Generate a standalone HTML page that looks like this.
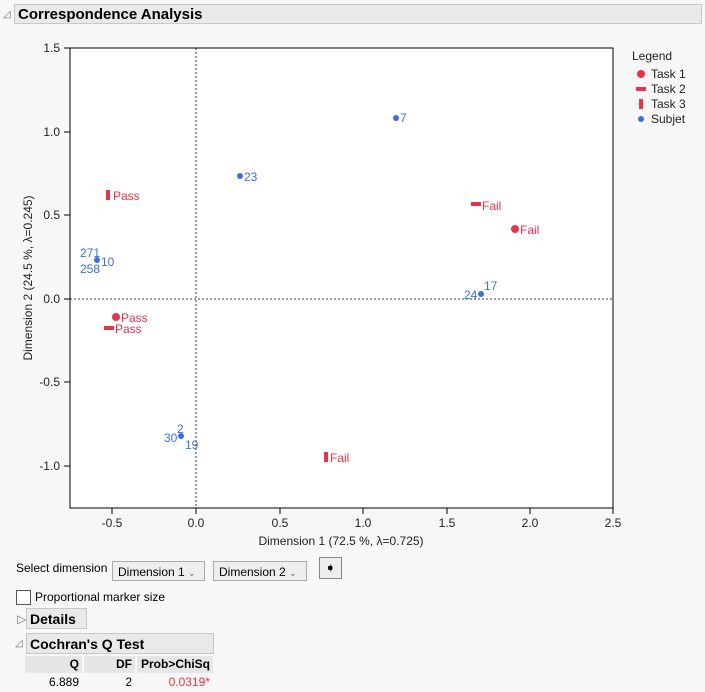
<!DOCTYPE html>
<html><head><style>
body{margin:0;background:#f7f7f7;font-family:"Liberation Sans",sans-serif;width:705px;height:692px;overflow:hidden;position:relative}
.hdr{position:absolute;left:14px;top:4px;width:688px;height:20px;background:#e9e9e9;border:1px solid #c8c8c8;font-weight:bold;font-size:15px;line-height:20px;padding-left:3px;box-sizing:border-box}
.tri{position:absolute;font-size:10px;color:#777}
.sel{position:absolute;top:561px;height:20px;border:1px solid #aaa;background:#eee;font-size:12px;line-height:20px;padding-left:5px;box-sizing:border-box}
</style></head><body>
<div class="tri" style="left:3px;top:9px">◿</div>
<div class="hdr">Correspondence Analysis</div>
<svg width="705" height="692" style="position:absolute;left:0;top:0" font-family="Liberation Sans, sans-serif">
<rect x="70" y="48" width="543" height="460" fill="#fff" stroke="#000" stroke-width="1"/>
<line x1="196" y1="48" x2="196" y2="508" stroke="#000" stroke-dasharray="2,2" stroke-width="0.8"/>
<line x1="70" y1="299" x2="613" y2="299" stroke="#000" stroke-dasharray="2,2" stroke-width="0.8"/>
<g font-size="12" fill="#222" text-anchor="end">
<text x="60" y="52">1.5</text><text x="60" y="136">1.0</text><text x="60" y="219">0.5</text><text x="60" y="303">0.0</text><text x="60" y="386">-0.5</text><text x="60" y="470">-1.0</text>
</g>
<g stroke="#000"><line x1="64" y1="48" x2="70" y2="48"/><line x1="64" y1="132" x2="70" y2="132"/><line x1="64" y1="215" x2="70" y2="215"/><line x1="64" y1="299" x2="70" y2="299"/><line x1="64" y1="382" x2="70" y2="382"/><line x1="64" y1="466" x2="70" y2="466"/>
<line x1="112" y1="508" x2="112" y2="514"/><line x1="196" y1="508" x2="196" y2="514"/><line x1="280" y1="508" x2="280" y2="514"/><line x1="363" y1="508" x2="363" y2="514"/><line x1="447" y1="508" x2="447" y2="514"/><line x1="530" y1="508" x2="530" y2="514"/><line x1="613" y1="508" x2="613" y2="514"/></g>
<g font-size="12" fill="#222" text-anchor="middle">
<text x="112" y="527">-0.5</text><text x="196" y="527">0.0</text><text x="280" y="527">0.5</text><text x="363" y="527">1.0</text><text x="447" y="527">1.5</text><text x="530" y="527">2.0</text><text x="613" y="527">2.5</text>
<text x="341" y="545">Dimension 1  (72.5 %, λ=0.725)</text>
<text transform="translate(32,278) rotate(-90)">Dimension 2  (24.5 %, λ=0.245)</text>
</g>
<g fill="#e8334a">
<circle cx="515" cy="229" r="4"/><circle cx="116" cy="317" r="4"/>
<rect x="471" y="202" width="10" height="4"/><rect x="104" y="326" width="10" height="4"/>
<rect x="106" y="190" width="4" height="10"/><rect x="324" y="452" width="4" height="10"/>
</g>
<g font-size="12" fill="#e8334a">
<text x="520" y="234">Fail</text><text x="121" y="322">Pass</text><text x="482" y="210">Fail</text><text x="115" y="333">Pass</text><text x="113" y="200">Pass</text><text x="330" y="462">Fail</text>
</g>
<g fill="#3b6fdc">
<circle cx="396" cy="118" r="3"/><circle cx="240" cy="176" r="3"/><circle cx="97" cy="260" r="3"/><circle cx="481" cy="294" r="3"/><circle cx="181" cy="436" r="3"/>
</g>
<g font-size="12" fill="#3b6fdc">
<text x="400" y="122">7</text><text x="244" y="181">23</text><text x="80" y="257">271</text><text x="80" y="273">258</text><text x="101" y="266">10</text>
<text x="484" y="290">17</text><text x="464" y="299">24</text><text x="177" y="433">2</text><text x="164" y="442">30</text><text x="185" y="449">19</text>
</g>
<g font-size="12" fill="#222">
<text x="632" y="60">Legend</text>
<text x="651" y="78">Task 1</text><text x="651" y="93">Task 2</text><text x="651" y="108">Task 3</text><text x="651" y="123">Subjet</text>
</g>
<circle cx="641" cy="74" r="4" fill="#e8334a"/><rect x="636" y="87" width="10" height="4" fill="#e8334a"/><rect x="639" y="99" width="4" height="10" fill="#e8334a"/><circle cx="641" cy="119" r="3" fill="#3b6fdc"/>
</svg>
<div style="position:absolute;left:16px;top:561px;font-size:12px">Select dimension</div>
<div class="sel" style="left:112px;width:93px">Dimension 1 <span style="font-size:9px;color:#666">⌄</span></div>
<div class="sel" style="left:213px;width:94px">Dimension 2 <span style="font-size:9px;color:#666">⌄</span></div>
<div style="position:absolute;left:319px;top:557px;width:21px;height:20px;border:1px solid #888;background:#eee;font-size:13px;text-align:center;line-height:20px">➧</div>
<div style="position:absolute;left:16px;top:590px;width:13px;height:13px;border:1px solid #555;background:#fff"></div>
<div style="position:absolute;left:35px;top:590px;font-size:12px">Proportional marker size</div>
<div class="tri" style="left:17px;top:612px;font-size:12px">▷</div>
<div style="position:absolute;left:26px;top:608px;width:61px;height:21px;background:#e9e9e9;border:1px solid #c8c8c8;font-weight:bold;font-size:14px;line-height:21px;padding-left:3px;box-sizing:border-box">Details</div>
<div class="tri" style="left:15px;top:638px">◿</div>
<div style="position:absolute;left:26px;top:633px;width:188px;height:21px;background:#e9e9e9;border:1px solid #c8c8c8;font-weight:bold;font-size:14px;line-height:21px;padding-left:3px;box-sizing:border-box">Cochran's Q Test</div>
<div style="position:absolute;left:25px;top:656px;width:57px;height:17px;background:#e6e6e6;font-size:12px;font-weight:bold;text-align:right;line-height:17px;padding-right:3px;box-sizing:border-box">Q</div>
<div style="position:absolute;left:84px;top:656px;width:51px;height:17px;background:#e6e6e6;font-size:12px;font-weight:bold;text-align:right;line-height:17px;padding-right:3px;box-sizing:border-box">DF</div>
<div style="position:absolute;left:137px;top:656px;width:76px;height:17px;background:#e6e6e6;font-size:12px;font-weight:bold;text-align:right;line-height:17px;padding-right:3px;box-sizing:border-box">Prob&gt;ChiSq</div>
<div style="position:absolute;left:25px;top:675px;width:57px;font-size:12px;text-align:right;padding-right:3px;box-sizing:border-box">6.889</div>
<div style="position:absolute;left:84px;top:675px;width:51px;font-size:12px;text-align:right;padding-right:3px;box-sizing:border-box">2</div>
<div style="position:absolute;left:137px;top:675px;width:76px;font-size:12px;text-align:right;padding-right:3px;box-sizing:border-box;color:#e8334a">0.0319*</div>
</body></html>
